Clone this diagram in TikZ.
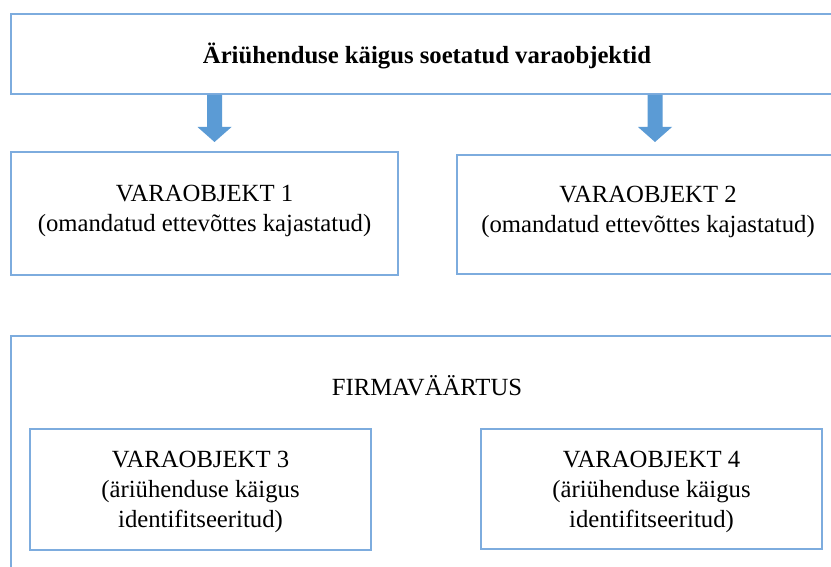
\documentclass[tikz,border=0pt]{standalone}
\usepackage{fontspec}
\setmainfont{Liberation Serif}
\definecolor{boxline}{RGB}{125,172,222}
\definecolor{arrowblue}{RGB}{91,155,213}
\tikzset{
  box/.style={draw=boxline, line width=1.6pt, fill=white, align=center, inner sep=0pt},
  lbl/.style={align=center, inner sep=0pt, font=\fontsize{24.7}{29.6}\selectfont},
  arrowfill/.style={fill=arrowblue, draw=none}
}
\begin{document}
\begin{tikzpicture}[x=1pt,y=-1pt]
\useasboundingbox (0,0) rectangle (831,567);
\clip (0,0) rectangle (831,567);
\fill[white] (0,0) rectangle (831,567);
% top box
\node[box, minimum width=829pt, minimum height=80pt] (top) at (425.5,54) {};
\node[lbl, font=\fontsize{24.7}{29.6}\selectfont\bfseries] (toptxt) at (427,56) {Äriühenduse käigus soetatud varaobjektid};
% boxes 1 and 2
\node[box, minimum width=387pt, minimum height=123pt] (b1) at (204.5,213.5) {};
\node[lbl] (t1) at (204.5,211) {VARAOBJEKT 1\\(omandatud ettevõttes kajastatud)};
\node[box, minimum width=388pt, minimum height=119pt] (b2) at (651,214.5) {};
\node[lbl] (t2) at (648,212) {VARAOBJEKT 2\\(omandatud ettevõttes kajastatud)};
% arrows
\coordinate (a1) at (214.5,95);
\coordinate (a2) at (655,95);
\foreach \a in {a1,a2}{
  \fill[arrowfill] (\a) ++(-7.5,0) -- ++(0,32) -- ++(-9.5,0) -- ++(17,15) -- ++(17,-15) -- ++(-9.5,0) -- ++(0,-32) -- cycle;
}
% big box
\node[box, minimum width=834pt, minimum height=264pt] (big) at (428,468) {};
\node[lbl] (firma) at (427,386) {FIRMAVÄÄRTUS};
\node[box, minimum width=341pt, minimum height=121pt] (b3) at (200.5,489.5) {};
\node[lbl] (t3) at (200.5,492) {VARAOBJEKT 3\\(äriühenduse käigus\\identifitseeritud)};
\node[box, minimum width=341pt, minimum height=120pt] (b4) at (651.5,489) {};
\node[lbl] (t4) at (651.5,492) {VARAOBJEKT 4\\(äriühenduse käigus\\identifitseeritud)};
\end{tikzpicture}
\end{document}
